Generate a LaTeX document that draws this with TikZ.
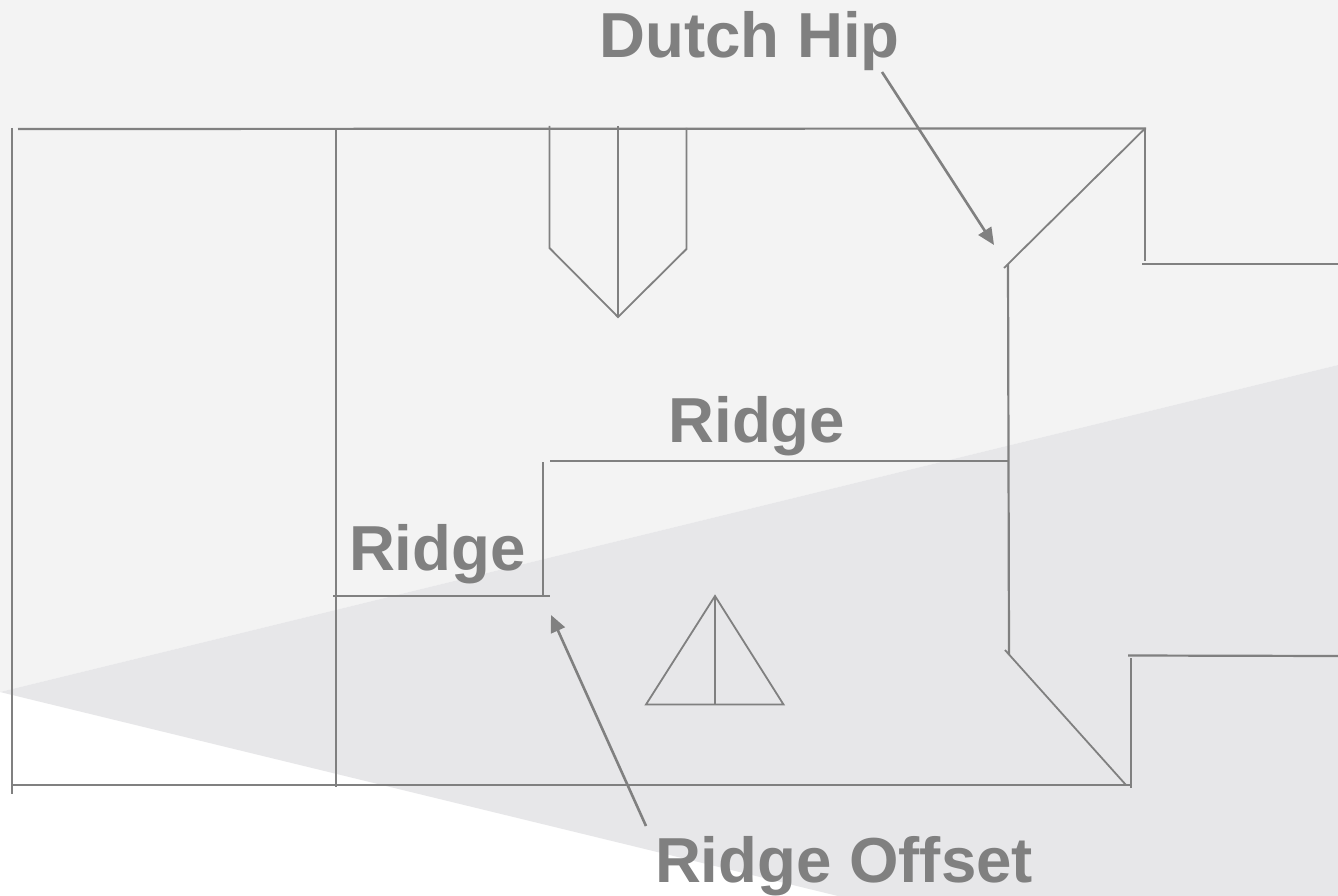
\documentclass[tikz,border=0pt]{standalone}
\usepackage{fontspec}
\setmainfont{Liberation Sans}
\usetikzlibrary{arrows.meta}
\definecolor{ink}{HTML}{808080}
\definecolor{paleband}{HTML}{F3F3F3}
\definecolor{greyband}{HTML}{E7E7E9}
\tikzset{
  roofline/.style={draw=ink,line width=2.2pt},
  thinline/.style={draw=ink,line width=1.8pt},
  pointer/.style={draw=ink,line width=2.6pt,-{Triangle[length=17pt,width=15pt]}},
  lbl/.style={text=ink,font=\fontsize{63.6}{64}\selectfont\bfseries,anchor=base west,inner sep=0pt,outer sep=0pt}
}
\begin{document}
\begin{tikzpicture}[x=1pt,y=-1pt]
\useasboundingbox (0,0) rectangle (1338,896);
\fill[white] (0,0) rectangle (1338,896);
\fill[paleband] (0,0) -- (1338,0) -- (1338,365) -- (0,692) -- cycle;
\fill[greyband] (0,692) -- (1338,365) -- (1338,896) -- (838,896) -- cycle;
% labels
\node[lbl] (hip) at (599.5,58) {Dutch Hip};
\node[lbl] (ridgeA) at (668.5,442.5) {Ridge};
\node[lbl] (ridgeB) at (349,570) {Ridge};
\node[lbl] (offset) at (655,882) {Ridge Offset};
% outline points
\coordinate (tl) at (18,129);
\coordinate (tr) at (1146,128.5);
\coordinate (ltop) at (12,128);
\coordinate (lbot) at (12,794);
\coordinate (bl) at (12,785);
\coordinate (br) at (1130,785);
\coordinate (intop) at (336,129);
\coordinate (inbot) at (336,787);
\coordinate (rv1) at (1145,128);
\coordinate (rv2) at (1145,261);
\coordinate (rh1) at (1142,264);
\coordinate (rh2) at (1338,264);
\coordinate (hipA) at (1145,128.5);
\coordinate (hipB) at (1004,268);
\coordinate (wallT) at (1008,264);
\coordinate (wallB) at (1009,655);
\coordinate (rdgR) at (1008,461);
\coordinate (rdgL) at (550,461);
\coordinate (stepT) at (543,462);
\coordinate (stepB) at (543,596);
\coordinate (ledgeL) at (333,596);
\coordinate (ledgeR) at (550,596);
\coordinate (lowA) at (1005,650);
\coordinate (lowB) at (1126,785);
\coordinate (rb1) at (1131,658);
\coordinate (rb2) at (1131,788);
\coordinate (rb3) at (1128,655.5);
\coordinate (rb4) at (1338,656);
% dormer
\coordinate (dl) at (549.5,126);
\coordinate (dl2) at (549.5,248);
\coordinate (dm) at (618,126);
\coordinate (dm2) at (618,317);
\coordinate (dr) at (686.5,128);
\coordinate (dr2) at (686.5,249);
% triangle
\coordinate (ta) at (715,596);
\coordinate (tb) at (646,704.5);
\coordinate (tc) at (783.5,704.5);
\coordinate (tm) at (715,704.5);
% pointer ends
\coordinate (p1a) at (882,72);
\coordinate (p1b) at (994,245);
\coordinate (p2a) at (646,826);
\coordinate (p2b) at (551,615);
\draw[roofline] (tl) -- (tr);
\draw[roofline] (ltop) -- (lbot);
\draw[roofline] (bl) -- (br);
\draw[roofline] (intop) -- (inbot);
\draw[roofline] (rv1) -- (rv2);
\draw[roofline] (rh1) -- (rh2);
\draw[thinline] (hipA) -- (hipB);
\draw[roofline] (wallT) -- (wallB);
\draw[roofline] (rdgR) -- (rdgL);
\draw[roofline] (stepT) -- (stepB);
\draw[roofline] (ledgeL) -- (ledgeR);
\draw[thinline] (lowA) -- (lowB);
\draw[roofline] (rb1) -- (rb2);
\draw[roofline] (rb3) -- (rb4);
\draw[thinline] (dl) -- (dl2) -- (dm2) -- (dr2) -- (dr);
\draw[thinline] (dm) -- (dm2);
\draw[thinline] (tb) -- (ta) -- (tc) -- cycle;
\draw[thinline] (ta) -- (tm);
\draw[pointer] (p1a) -- (p1b);
\draw[pointer] (p2a) -- (p2b);
\end{tikzpicture}
\end{document}
